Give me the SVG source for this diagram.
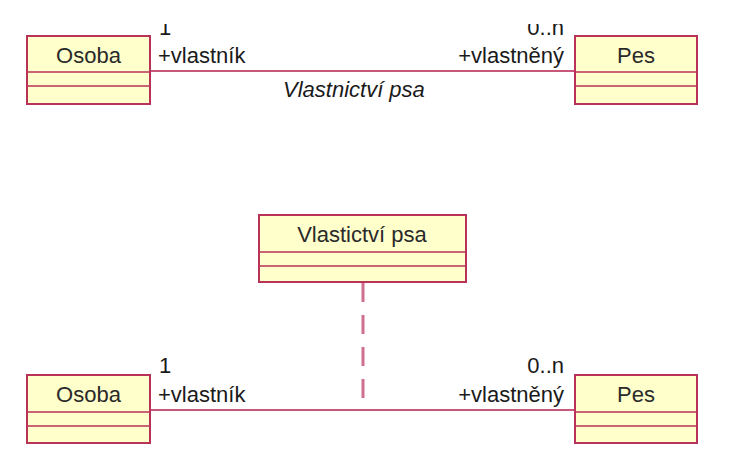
<svg xmlns="http://www.w3.org/2000/svg" width="736" height="472" viewBox="0 0 736 472">
<style>
.box{fill:#FFFFCC;stroke:#B8325A;stroke-width:2}
.div{stroke:#B8325A;stroke-width:1.5}
.name{font-family:"Liberation Sans",Arial,sans-serif;font-size:22px;fill:#2a2a2a;text-anchor:middle}
.lbl{font-family:"Liberation Sans",Arial,sans-serif;font-size:22px;fill:#1a1a1a}
.end{text-anchor:end}
.assoc{stroke:#C8587A;stroke-width:2;fill:none}
.dash{stroke:#D07090;stroke-width:3;fill:none;stroke-dasharray:19 13}
</style>
<defs>
<clipPath id="topclip"><rect x="0" y="24" width="736" height="448"/></clipPath>
</defs>
<rect width="736" height="472" fill="#ffffff"/>
<g id="connectors">
<line class="assoc" x1="150" y1="71" x2="575" y2="71"/>
<line class="assoc" x1="150" y1="410" x2="575" y2="410"/>
<line class="dash" x1="363" y1="283" x2="363" y2="410"/>
</g>
<g id="labels">
<g clip-path="url(#topclip)">
<text class="lbl" x="159" y="35">1</text>
<text class="lbl end" x="564" y="35">0..n</text>
</g>
<text class="lbl" x="158" y="63">+vlastník</text>
<text class="lbl end" x="564" y="63">+vlastněný</text>
<text class="lbl" x="283" y="97" font-style="italic">Vlastnictví psa</text>
<text class="lbl" x="159" y="373">1</text>
<text class="lbl end" x="564" y="373">0..n</text>
<text class="lbl" x="158" y="402">+vlastník</text>
<text class="lbl end" x="564" y="402">+vlastněný</text>
</g>
<g id="osoba1">
<rect class="box" x="27" y="36" width="123" height="68"/>
<line class="div" x1="27" y1="72" x2="150" y2="72"/>
<line class="div" x1="27" y1="86" x2="150" y2="86"/>
<text class="name" x="88.5" y="63">Osoba</text>
</g>
<g id="pes1">
<rect class="box" x="575" y="36" width="122" height="68"/>
<line class="div" x1="575" y1="72" x2="697" y2="72"/>
<line class="div" x1="575" y1="86" x2="697" y2="86"/>
<text class="name" x="636" y="63">Pes</text>
</g>
<g id="vlastnictvi">
<rect class="box" x="259" y="215" width="207" height="67"/>
<line class="div" x1="259" y1="252" x2="466" y2="252"/>
<line class="div" x1="259" y1="266" x2="466" y2="266"/>
<text class="name" x="362" y="242">Vlastictví psa</text>
</g>
<g id="osoba2">
<rect class="box" x="27" y="375" width="123" height="68"/>
<line class="div" x1="27" y1="412" x2="150" y2="412"/>
<line class="div" x1="27" y1="426" x2="150" y2="426"/>
<text class="name" x="88.5" y="402">Osoba</text>
</g>
<g id="pes2">
<rect class="box" x="575" y="375" width="122" height="68"/>
<line class="div" x1="575" y1="412" x2="697" y2="412"/>
<line class="div" x1="575" y1="426" x2="697" y2="426"/>
<text class="name" x="636" y="402">Pes</text>
</g>
</svg>
